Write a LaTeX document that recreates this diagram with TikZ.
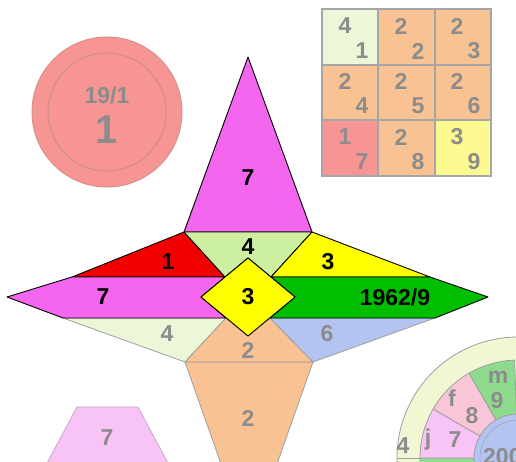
\documentclass[tikz,border=0pt]{standalone}
\usepackage{fontspec}
\setmainfont{Liberation Sans}
\usepackage{xcolor}
\definecolor{spikepink}{HTML}{F466EE}
\definecolor{hotred}{HTML}{F20000}
\definecolor{limegreen}{HTML}{CCF0A0}
\definecolor{brightyellow}{HTML}{FFFF00}
\definecolor{deepgreen}{HTML}{00BE00}
\definecolor{palegreen}{HTML}{EBF7D6}
\definecolor{peach}{HTML}{F9C292}
\definecolor{paleblue}{HTML}{B4C4F0}
\definecolor{salmon}{HTML}{F79494}
\definecolor{paleyellow}{HTML}{FBF990}
\definecolor{lightpink}{HTML}{F8C4F6}
\definecolor{rosepink}{HTML}{F8C6D6}
\definecolor{mintgreen}{HTML}{8EDB8E}
\definecolor{ringpale}{HTML}{F1F7D3}
\definecolor{lblgray}{HTML}{8C8C8C}
\usepackage{tikz}

\begin{document}
\begin{tikzpicture}[x=1pt, y=-1pt,
  hardedge/.style={draw=black, line width=0.9pt, line join=round},
  softedge/.style={draw=gray!75, line width=0.8pt, line join=round},
  numlbl/.style={font=\fontsize{23}{23}\selectfont\bfseries, inner sep=0pt, text=black},
  softlbl/.style={numlbl, text=lblgray}]

  \clip (0,0) rectangle (516,461);
  \fill[white] (0,0) rectangle (516,461);

  % Kreis oben links
  \filldraw[fill=salmon, draw=salmon!75!gray, line width=1pt] (107,112) circle (75);
  \draw[salmon!55!gray, line width=0.7pt] (107,112) circle (59);
  \node[softlbl] (datum) at (107,95) {19/1};
  \node[softlbl, font=\fontsize{40}{40}\selectfont\bfseries] (tagzahl) at (107,130) {1};

  % Raster oben rechts
  \fill[palegreen] (322,9) rectangle (378,65);
  \fill[peach] (378,9) rectangle (435,65);
  \fill[peach] (435,9) rectangle (491,65);
  \fill[peach] (322,65) rectangle (378,120);
  \fill[peach] (378,65) rectangle (435,120);
  \fill[peach] (435,65) rectangle (491,120);
  \fill[salmon] (322,120) rectangle (378,176);
  \fill[peach] (378,120) rectangle (435,176);
  \fill[paleyellow] (435,120) rectangle (491,176);
  \draw[gray!70, line width=1.1pt] (322,9) rectangle (491,176);
  \draw[gray!70, line width=1.1pt] (378,9) -- (378,176) (435,9) -- (435,176)
    (322,65) -- (491,65) (322,120) -- (491,120);
  \node[softlbl] (za) at (345,26) {4};
  \node[softlbl] (zb) at (362,51) {1};
  \node[softlbl] (zc) at (401,26) {2};
  \node[softlbl] (zd) at (418,51) {2};
  \node[softlbl] (ze) at (457,26) {2};
  \node[softlbl] (zf) at (474,51) {3};
  \node[softlbl] (zg) at (345,81) {2};
  \node[softlbl] (zh) at (362,106) {4};
  \node[softlbl] (zi) at (401,81) {2};
  \node[softlbl] (zj) at (418,106) {5};
  \node[softlbl] (zk) at (457,81) {2};
  \node[softlbl] (zl) at (474,106) {6};
  \node[softlbl] (zm) at (345,137) {1};
  \node[softlbl] (zn) at (362,162) {7};
  \node[softlbl] (zo) at (401,137) {2};
  \node[softlbl] (zp) at (418,162) {8};
  \node[softlbl] (zq) at (457,137) {3};
  \node[softlbl] (zr) at (474,162) {9};

  % Stern, blasse untere Teile
  \filldraw[fill=peach, softedge] (185,362) -- (313,362) -- (249,543) -- cycle;
  \filldraw[fill=palegreen, softedge] (63,318) -- (226,318) -- (185,362) -- cycle;
  \filldraw[fill=peach, softedge] (185,362) -- (226,318) -- (248,336) -- (270,318) -- (313,362) -- cycle;
  \filldraw[fill=paleblue, softedge] (270,318) -- (435,318) -- (313,362) -- cycle;

  % Stern, obere Teile
  \filldraw[fill=spikepink, hardedge] (248,57) -- (312,232) -- (184,232) -- cycle;
  \filldraw[fill=hotred, hardedge] (184,232) -- (225,277) -- (72,277) -- cycle;
  \filldraw[fill=limegreen, hardedge] (184,232) -- (312,232) -- (271,277) -- (248,258) -- (225,277) -- cycle;
  \filldraw[fill=brightyellow, hardedge] (312,232) -- (430,277) -- (271,277) -- cycle;
  \filldraw[fill=spikepink, hardedge] (72,277) -- (225,277) -- (201,297) -- (226,318) -- (63,318) -- (7,297) -- cycle;
  \filldraw[fill=deepgreen, hardedge] (271,277) -- (430,277) -- (488,297) -- (435,318) -- (270,318) -- (295,297) -- cycle;
  \filldraw[fill=brightyellow, hardedge] (248,258) -- (295,297) -- (248,336) -- (201,297) -- cycle;

  \node[numlbl] (spitze) at (248,178) {7};
  \node[numlbl] (mitteoben) at (248,247) {4};
  \node[numlbl] (rotfeld) at (168,262) {1};
  \node[numlbl] (gelbfeld) at (328,262) {3};
  \node[numlbl] (linksband) at (103,297) {7};
  \node[numlbl] (raute) at (248,297) {3};
  \node[numlbl] (rechtsband) at (395,297) {1962/9};
  \node[softlbl] (untenlinks) at (167,334) {4};
  \node[softlbl] (untenmitte) at (248,350) {2};
  \node[softlbl] (untenrechts) at (327,334) {6};
  \node[softlbl] (unterspitze) at (248,418) {2};

  % Form unten links
  \filldraw[fill=lightpink, draw=lightpink!60!gray, line width=0.8pt]
    (77,407) -- (138,407) -- (177,480) -- (38,480) -- cycle;
  \node[softlbl] (formsieben) at (107,438) {7};

  % Kreisdiagramm unten rechts
  \filldraw[fill=ringpale, softedge] (518,458) circle (121);
  \draw[softedge] (518,458) ++(180:98) -- ++(180:23);
  \filldraw[fill=mintgreen, softedge] (518,458) -- ++(150:98) arc[start angle=150, end angle=180, radius=98] -- cycle;
  \filldraw[fill=lightpink, softedge] (518,458) -- ++(180:98) arc[start angle=180, end angle=210, radius=98] -- cycle;
  \filldraw[fill=rosepink, softedge] (518,458) -- ++(210:98) arc[start angle=210, end angle=240, radius=98] -- cycle;
  \filldraw[fill=mintgreen, softedge] (518,458) -- ++(240:98) arc[start angle=240, end angle=268, radius=98] -- cycle;
  \filldraw[fill=paleblue, softedge] (518,458) circle (44);
  \draw[paleblue!60!gray, line width=0.7pt] (518,458) circle (38);
  \node[softlbl, anchor=west] (jahr) at (483,457) {200};
  \node[softlbl] (ringvier) at (403,446) {4};
  \node[softlbl] (jbuch) at (428,440) {j};
  \node[softlbl] (jzahl) at (455,440) {7};
  \node[softlbl] (fbuch) at (452,398) {f};
  \node[softlbl] (fzahl) at (472,416) {8};
  \node[softlbl] (mbuch) at (498,377) {m};
  \node[softlbl] (mzahl) at (497,401) {9};

\end{tikzpicture}
\end{document}
